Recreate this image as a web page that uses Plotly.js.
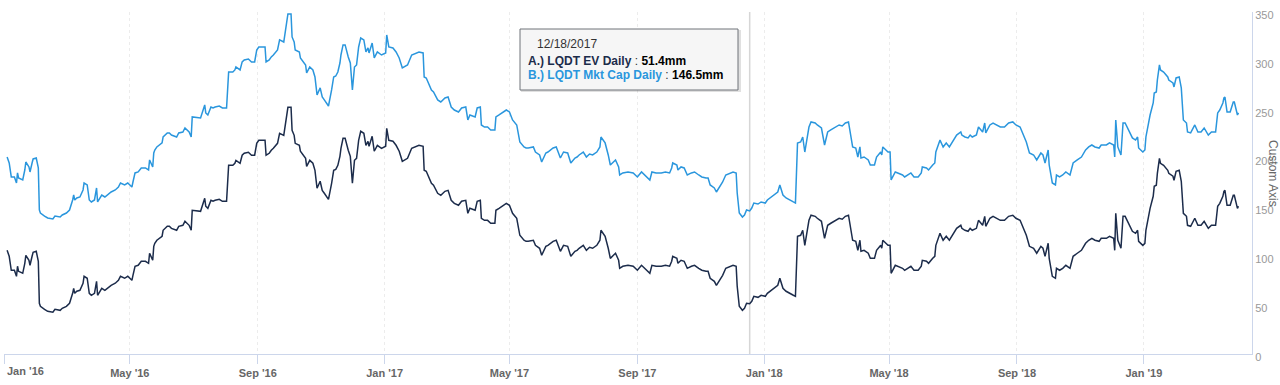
<!DOCTYPE html>
<html>
<head>
<meta charset="utf-8">
<script src="https://cdn.plot.ly/plotly-3.0.1.min.js"></script>
<style>
html,body{margin:0;padding:0;background:#fff;}
#chart{width:1280px;height:385px;}
</style>
</head>
<body>
<div id="chart"></div>
<script>
// ---------- data ----------
const dates = [
"2016-01-04","2016-01-06","2016-01-08","2016-01-11","2016-01-13","2016-01-14","2016-01-15","2016-01-19","2016-01-21","2016-01-22",
"2016-01-25","2016-01-26","2016-01-28","2016-01-29","2016-02-01","2016-02-02","2016-02-03","2016-02-04","2016-02-05","2016-02-09",
"2016-02-12","2016-02-17","2016-02-19","2016-02-24","2016-02-26","2016-03-01","2016-03-04","2016-03-07","2016-03-08","2016-03-09",
"2016-03-11","2016-03-14","2016-03-17","2016-03-18","2016-03-21","2016-03-23","2016-03-25","2016-03-28","2016-03-30","2016-03-31",
"2016-04-04","2016-04-07","2016-04-11","2016-04-13","2016-04-17","2016-04-20","2016-04-22","2016-04-26","2016-04-29","2016-05-03",
"2016-05-04","2016-05-06","2016-05-09","2016-05-12","2016-05-16","2016-05-19","2016-05-20","2016-05-23","2016-05-24","2016-05-25",
"2016-05-27","2016-06-01","2016-06-02","2016-06-06","2016-06-08","2016-06-10","2016-06-15","2016-06-17","2016-06-21","2016-06-23",
"2016-06-27","2016-06-29","2016-06-30","2016-07-05","2016-07-08","2016-07-12","2016-07-13","2016-07-15","2016-07-18","2016-07-20",
"2016-07-22","2016-07-26","2016-07-29","2016-08-02","2016-08-04","2016-08-08","2016-08-10","2016-08-11","2016-08-15","2016-08-17",
"2016-08-19","2016-08-23","2016-08-26","2016-08-29","2016-08-31","2016-09-02","2016-09-08","2016-09-09","2016-09-12","2016-09-14",
"2016-09-16","2016-09-20","2016-09-22","2016-09-26","2016-09-28","2016-09-30","2016-10-03","2016-10-04","2016-10-06","2016-10-07",
"2016-10-11","2016-10-12","2016-10-17","2016-10-18","2016-10-21","2016-10-24","2016-10-26","2016-10-27","2016-10-28","2016-10-31",
"2016-11-02","2016-11-04","2016-11-08","2016-11-11","2016-11-13","2016-11-15","2016-11-17","2016-11-19","2016-11-20","2016-11-22",
"2016-11-24","2016-11-27","2016-11-29","2016-12-01","2016-12-03","2016-12-05","2016-12-07","2016-12-09","2016-12-12","2016-12-14",
"2016-12-16","2016-12-17","2016-12-20","2016-12-22","2016-12-25","2016-12-29","2017-01-02","2017-01-03","2017-01-05","2017-01-09",
"2017-01-12","2017-01-15","2017-01-18","2017-01-23","2017-01-27","2017-02-03","2017-02-07","2017-02-08","2017-02-10","2017-02-15",
"2017-02-17","2017-02-21","2017-02-24","2017-02-28","2017-03-03","2017-03-06","2017-03-09","2017-03-13","2017-03-16","2017-03-20",
"2017-03-22","2017-03-24","2017-03-29","2017-03-31","2017-04-03","2017-04-04","2017-04-07","2017-04-10","2017-04-13","2017-04-17",
"2017-04-18","2017-04-21","2017-04-25","2017-04-28","2017-05-01","2017-05-04","2017-05-08","2017-05-11","2017-05-15","2017-05-17",
"2017-05-19","2017-05-24","2017-05-26","2017-05-30","2017-06-01","2017-06-05","2017-06-07","2017-06-12","2017-06-15","2017-06-19",
"2017-06-22","2017-06-26","2017-06-29","2017-07-03","2017-07-05","2017-07-07","2017-07-11","2017-07-14","2017-07-17","2017-07-20",
"2017-07-24","2017-07-27","2017-07-28","2017-08-01","2017-08-04","2017-08-06","2017-08-09","2017-08-11","2017-08-14","2017-08-15",
"2017-08-18","2017-08-23","2017-08-28","2017-09-01","2017-09-05","2017-09-08","2017-09-11","2017-09-13","2017-09-15","2017-09-19",
"2017-09-24","2017-09-28","2017-10-02","2017-10-04","2017-10-05","2017-10-09","2017-10-10","2017-10-13","2017-10-16","2017-10-19",
"2017-10-23","2017-10-26","2017-10-30","2017-11-02","2017-11-06","2017-11-08","2017-11-10","2017-11-14","2017-11-16","2017-11-20",
"2017-11-22","2017-11-25","2017-11-29","2017-12-02","2017-12-05","2017-12-06","2017-12-08","2017-12-11","2017-12-13","2017-12-15",
"2017-12-18","2017-12-20","2017-12-22","2017-12-26","2017-12-29","2018-01-02","2018-01-04","2018-01-08","2018-01-11","2018-01-14",
"2018-01-16","2018-01-19","2018-01-22","2018-01-25","2018-01-29","2018-01-31","2018-02-02","2018-02-05","2018-02-07","2018-02-09",
"2018-02-13","2018-02-15","2018-02-19","2018-02-21","2018-02-25","2018-02-28","2018-03-03","2018-03-06","2018-03-10","2018-03-14",
"2018-03-17","2018-03-20","2018-03-23","2018-03-27","2018-03-30","2018-04-01","2018-04-03","2018-04-04","2018-04-07","2018-04-11",
"2018-04-13","2018-04-17","2018-04-19","2018-04-23","2018-04-24","2018-04-25","2018-04-28","2018-04-30","2018-05-02","2018-05-03",
"2018-05-07","2018-05-10","2018-05-14","2018-05-16","2018-05-19","2018-05-22","2018-05-25","2018-05-29","2018-06-01","2018-06-02",
"2018-06-06","2018-06-08","2018-06-12","2018-06-14","2018-06-15","2018-06-19","2018-06-22","2018-06-25","2018-06-28","2018-07-02",
"2018-07-05","2018-07-09","2018-07-10","2018-07-13","2018-07-16","2018-07-18","2018-07-20","2018-07-24","2018-07-26","2018-07-30",
"2018-08-01","2018-08-02","2018-08-06","2018-08-09","2018-08-13","2018-08-16","2018-08-20","2018-08-22","2018-08-24","2018-08-28",
"2018-08-31","2018-09-04","2018-09-07","2018-09-10","2018-09-13","2018-09-17","2018-09-20","2018-09-24","2018-09-26","2018-09-28",
"2018-10-01","2018-10-02","2018-10-05","2018-10-08","2018-10-09","2018-10-12","2018-10-15","2018-10-18","2018-10-22","2018-10-25",
"2018-10-29","2018-10-31","2018-11-02","2018-11-06","2018-11-09","2018-11-12","2018-11-15","2018-11-19","2018-11-21","2018-11-26",
"2018-11-29","2018-12-03","2018-12-04","2018-12-05","2018-12-06","2018-12-07","2018-12-10","2018-12-12","2018-12-14","2018-12-18",
"2018-12-21","2018-12-24","2018-12-26","2018-12-27","2018-12-31","2019-01-02","2019-01-03","2019-01-07","2019-01-10","2019-01-11",
"2019-01-13","2019-01-14","2019-01-16","2019-01-17","2019-01-20","2019-01-24","2019-01-25","2019-01-29","2019-01-30","2019-02-01",
"2019-02-04","2019-02-06","2019-02-08","2019-02-11","2019-02-12","2019-02-15","2019-02-19","2019-02-22","2019-02-25","2019-02-28",
"2019-03-04","2019-03-07","2019-03-11","2019-03-13","2019-03-15","2019-03-18","2019-03-19","2019-03-20","2019-03-22","2019-03-25",
"2019-03-28","2019-03-29","2019-04-01","2019-04-02"
];

const mktCap = [
201.6,195.5,181.2,181.2,175.0,185.3,180.1,178.1,188.3,196.5,
191.4,186.3,195.5,199.6,200.6,195.5,190.4,147.4,144.3,141.2,
139.2,138.2,141.2,140.2,142.3,144.3,147.4,157.6,162.7,157.6,
159.7,160.7,167.9,175.0,173.0,157.6,155.6,157.6,169.9,155.6,
162.7,160.7,164.8,165.8,167.9,170.9,175.0,173.0,175.0,170.9,
176.0,185.3,186.3,190.4,190.4,188.3,198.6,191.4,205.7,208.8,
211.9,216.0,222.1,226.2,226.2,224.1,222.1,226.2,227.2,231.3,
227.2,222.1,242.6,241.5,241.5,254.9,246.7,244.6,252.8,251.8,
252.8,253.8,251.8,251.8,288.6,288.6,290.7,293.7,290.7,298.9,
300.9,301.9,298.9,298.9,311.1,314.2,314.2,298.9,300.9,304.0,
306.0,311.1,321.4,319.3,334.7,348.0,348.0,324.5,319.3,311.1,
309.1,303.0,295.8,287.6,293.7,290.7,283.5,273.3,265.1,272.3,
263.0,260.0,253.8,270.2,283.5,284.5,288.6,297.8,306.0,316.3,
316.3,304.0,297.8,270.2,293.7,295.8,314.2,323.4,321.4,309.1,
313.2,308.1,318.3,303.0,309.1,306.0,308.1,326.5,314.2,313.2,
309.1,303.0,292.7,295.8,306.0,309.1,308.1,283.5,282.5,270.2,
268.2,260.0,257.9,262.0,263.0,252.8,249.7,247.7,251.8,252.8,
239.5,244.6,242.6,251.8,252.8,234.4,232.3,232.3,229.3,229.3,
242.6,244.6,247.7,249.7,247.7,239.5,234.4,217.0,211.9,210.8,
210.8,211.9,206.7,203.7,196.5,205.7,206.7,210.8,211.9,200.6,
206.7,205.7,195.5,200.6,201.6,203.7,206.7,201.6,204.7,203.7,
206.7,211.9,222.1,216.0,203.7,193.4,196.5,198.6,191.4,183.2,
185.3,186.3,185.3,181.2,186.3,183.2,180.1,178.1,186.3,185.3,
185.3,186.3,185.3,190.4,195.5,193.4,188.3,191.4,190.4,183.2,
185.3,186.3,183.2,181.2,180.1,180.1,173.0,169.9,165.8,173.0,
176.0,183.2,185.3,186.3,185.3,164.8,144.3,140.2,142.3,147.4,
146.5,149.4,154.5,153.5,155.6,154.5,157.6,160.7,162.7,165.8,
173.0,162.7,159.7,157.6,155.6,154.5,216.0,217.0,222.1,206.7,
232.3,237.5,236.4,234.4,231.3,213.9,227.2,229.3,232.3,234.4,
233.4,236.4,237.5,211.9,210.8,201.6,211.9,200.6,201.6,198.6,
193.4,193.4,201.6,206.7,203.7,211.9,208.8,206.7,206.7,178.1,
186.3,185.3,183.2,181.2,183.2,185.3,181.2,181.2,185.3,191.4,
190.4,188.3,193.4,195.5,206.7,219.0,211.9,216.0,211.9,219.0,
224.1,227.2,224.1,222.1,221.1,224.1,222.1,224.1,232.3,227.2,
236.4,226.2,234.4,236.4,234.4,232.3,232.3,234.4,236.4,237.5,
234.4,232.3,224.1,217.0,205.7,203.7,198.6,205.7,203.7,195.5,
208.8,193.4,175.0,173.0,183.2,181.2,183.2,186.3,183.2,195.5,
198.6,200.6,201.6,208.8,211.9,213.9,211.9,210.8,213.9,213.9,
216.0,213.9,201.6,239.5,219.0,211.9,203.7,236.4,236.4,227.2,
221.1,219.0,222.1,210.8,206.7,208.8,222.1,244.6,256.9,267.1,
268.2,280.4,295.8,290.7,288.6,283.5,280.4,277.4,273.3,282.5,
283.5,272.3,239.5,236.4,227.2,226.2,234.4,227.2,227.2,231.3,
224.1,227.2,227.2,246.7,249.7,256.9,262.0,263.0,247.7,247.7,
257.9,257.9,244.6,246.7
];

const ev = [
106.1,100.0,85.7,85.7,79.5,89.8,84.6,82.6,92.8,101.0,
95.9,90.8,100.0,104.1,105.1,100.0,94.9,51.9,48.8,45.7,
43.7,42.7,45.7,44.7,46.8,48.8,51.9,62.1,67.2,62.1,
64.2,65.2,72.4,79.5,77.5,62.1,60.1,62.1,74.4,60.1,
67.2,65.2,69.3,70.3,72.4,75.4,79.5,77.5,79.5,75.4,
80.5,89.8,90.8,94.9,94.9,92.8,103.1,95.9,110.2,113.3,
116.4,120.5,126.6,130.7,130.7,128.6,126.6,130.7,131.7,135.8,
131.7,126.6,147.1,146.0,146.0,159.4,151.2,149.1,157.3,156.3,
157.3,158.3,156.3,156.3,193.1,193.1,195.2,198.2,195.2,203.4,
205.4,206.4,203.4,203.4,215.6,218.7,218.7,203.4,205.4,208.5,
210.5,215.6,225.9,223.8,239.2,252.5,252.5,229.0,223.8,215.6,
213.6,207.5,200.3,192.1,198.2,195.2,188.0,177.8,169.6,176.8,
167.5,164.5,158.3,174.7,188.0,189.0,193.1,202.3,210.5,220.8,
220.8,208.5,202.3,174.7,198.2,200.3,218.7,227.9,225.9,213.6,
217.7,212.6,222.8,207.5,213.6,210.5,212.6,231.0,218.7,217.7,
213.6,207.5,197.2,200.3,210.5,213.6,212.6,188.0,187.0,174.7,
172.7,164.5,162.4,166.5,167.5,157.3,154.2,152.2,156.3,157.3,
144.0,149.1,147.1,156.3,157.3,138.9,136.8,136.8,133.8,133.8,
147.1,149.1,152.2,154.2,152.2,144.0,138.9,121.5,116.4,115.3,
115.3,116.4,111.2,108.2,101.0,110.2,111.2,115.3,116.4,105.1,
111.2,110.2,100.0,105.1,106.1,108.2,111.2,106.1,109.2,108.2,
111.2,116.4,126.6,120.5,108.2,97.9,101.0,103.1,95.9,87.7,
89.8,90.8,89.8,85.7,90.8,87.7,84.6,82.6,90.8,89.8,
89.8,90.8,89.8,94.9,100.0,97.9,92.8,95.9,94.9,87.7,
89.8,90.8,87.7,85.7,84.6,84.6,77.5,74.4,70.3,77.5,
80.5,87.7,89.8,90.8,89.8,69.3,48.8,44.7,46.8,51.9,
51.4,53.9,59.0,58.0,60.1,59.0,62.1,65.2,67.2,70.3,
77.5,67.2,64.2,62.1,60.1,59.0,120.5,121.5,126.6,111.2,
136.8,142.0,140.9,138.9,135.8,118.4,131.7,133.8,136.8,138.9,
137.9,140.9,142.0,116.4,115.3,106.1,116.4,105.1,106.1,103.1,
97.9,97.9,106.1,111.2,108.2,116.4,113.3,111.2,111.2,82.6,
90.8,89.8,87.7,85.7,87.7,89.8,85.7,85.7,89.8,95.9,
94.9,92.8,97.9,100.0,111.2,123.5,116.4,120.5,116.4,123.5,
128.6,131.7,128.6,126.6,125.6,128.6,126.6,128.6,136.8,131.7,
140.9,130.7,138.9,140.9,138.9,136.8,136.8,138.9,140.9,142.0,
138.9,136.8,128.6,121.5,110.2,108.2,103.1,110.2,108.2,100.0,
113.3,97.9,79.5,77.5,87.7,85.7,87.7,90.8,87.7,100.0,
103.1,105.1,106.1,113.3,116.4,118.4,116.4,115.3,118.4,118.4,
120.5,118.4,106.1,144.0,123.5,116.4,108.2,140.9,140.9,131.7,
125.6,123.5,126.6,115.3,111.2,113.3,126.6,149.1,161.4,171.6,
172.7,184.9,200.3,195.2,193.1,188.0,184.9,181.9,177.8,187.0,
188.0,176.8,144.0,140.9,131.7,130.7,138.9,131.7,131.7,135.8,
128.6,131.7,131.7,151.2,154.2,161.4,166.5,167.5,152.2,152.2,
162.4,162.4,149.1,151.2
];

const seriesNames = ["A.) LQDT EV Daily", "B.) LQDT Mkt Cap Daily"];
const tickDates = ["2016-01-01","2016-05-01","2016-09-01","2017-01-01","2017-05-01","2017-09-01","2018-01-01","2018-05-01","2018-09-01","2019-01-01"];
const tickLabels = ["Jan '16","May '16","Sep '16","Jan '17","May '17","Sep '17","Jan '18","May '18","Sep '18","Jan '19"];
const yTicks = [0,50,100,150,200,250,300,350];
const tipDate = "2017-12-18";
const tipLabel = "12/18/2017";
const tipEV = 51.4;
const tipMC = 146.5;

// ---------- layout helpers ----------
const ML = 4, MR = 28, MT = 12, MB = 31, W = 1280, H = 385;
const PW = W - ML - MR, PH = H - MT - MB;
const px = x => (x - ML) / PW;
const py = y => (H - MB - y) / PH;

const FONT = "Liberation Sans, Arial, Helvetica, sans-serif";
const navy = "#1c2c4b", blue = "#2a96dd";

const traces = [
  {x: dates, y: ev, name: seriesNames[0], type: "scatter", mode: "lines",
   line: {color: navy, width: 1.5}},
  {x: dates, y: mktCap, name: seriesNames[1], type: "scatter", mode: "lines",
   line: {color: blue, width: 1.5}}
];

const layout = {
  width: W, height: H,
  margin: {l: ML, r: MR, t: MT, b: MB, pad: 0},
  paper_bgcolor: "#fff", plot_bgcolor: "#fff",
  showlegend: false,
  hovermode: false,
  font: {family: FONT},
  xaxis: {
    type: "date",
    range: ["2016-01-01", "2019-04-15"],
    tickvals: tickDates,
    ticktext: tickLabels.map((t, i) => i === 0 ? "" : t),
    ticks: "outside", ticklen: 9, tickwidth: 1, tickcolor: "#ccd6eb",
    showline: true, linecolor: "#ccd6eb", linewidth: 1,
    showgrid: true, gridcolor: "#ececec", griddash: "dot", gridwidth: 1,
    zeroline: false,
    tickfont: {family: FONT, size: 11, color: "#666", weight: 700},
    fixedrange: true
  },
  yaxis: {
    side: "right",
    range: [0, 350],
    tickvals: yTicks,
    ticks: "",
    ticklabelshift: 3,
    showline: true, linecolor: "#ccd6eb", linewidth: 1,
    showgrid: false, zeroline: false,
    tickfont: {family: FONT, size: 11, color: "#999"},
    fixedrange: true
  },
  shapes: [
    {type: "line", xref: "x", yref: "paper", x0: tipDate, x1: tipDate, y0: 0, y1: 1,
     line: {color: "#d6d6d6", width: 1.5}, layer: "below"},
    {type: "rect", xref: "paper", yref: "paper",
     x0: px(521), x1: px(741), y0: py(92), y1: py(30),
     fillcolor: "rgba(0,0,0,0.12)", line: {width: 0}},
    {type: "rect", xref: "paper", yref: "paper",
     x0: px(520), x1: px(738), y0: py(90), y1: py(29),
     fillcolor: "rgba(247,247,247,0.97)", line: {color: "#6f7378", width: 1}}
  ],
  annotations: [
    {xref: "paper", yref: "paper", x: px(4.5), y: py(370.5), xanchor: "left", yanchor: "middle",
     text: tickLabels[0], showarrow: false, font: {family: FONT, size: 11, color: "#666", weight: 700}},
    {xref: "paper", yref: "paper", x: px(1273), y: py(173), xanchor: "center", yanchor: "middle",
     text: "Custom Axis", textangle: 90, showarrow: false, font: {family: FONT, size: 12, color: "#666"}},
    {xref: "paper", yref: "paper", x: px(535), y: py(44), xanchor: "left", yanchor: "middle",
     text: tipLabel, showarrow: false, font: {family: FONT, size: 12, color: "#333"}},
    {xref: "paper", yref: "paper", x: px(526), y: py(60.5), xanchor: "left", yanchor: "middle",
     text: '<b><span style="color:' + navy + '">' + seriesNames[0] + '</span></b> : <b><span style="color:#000">' + tipEV.toFixed(1) + 'mm</span></b>',
     showarrow: false, font: {family: FONT, size: 12, color: "#333"}},
    {xref: "paper", yref: "paper", x: px(526), y: py(75.5), xanchor: "left", yanchor: "middle",
     text: '<b><span style="color:' + blue + '">' + seriesNames[1] + '</span></b> : <b><span style="color:#000">' + tipMC.toFixed(1) + 'mm</span></b>',
     showarrow: false, font: {family: FONT, size: 12, color: "#333"}}
  ]
};

Plotly.newPlot("chart", traces, layout, {staticPlot: true, displayModeBar: false});
</script>
</body>
</html>
